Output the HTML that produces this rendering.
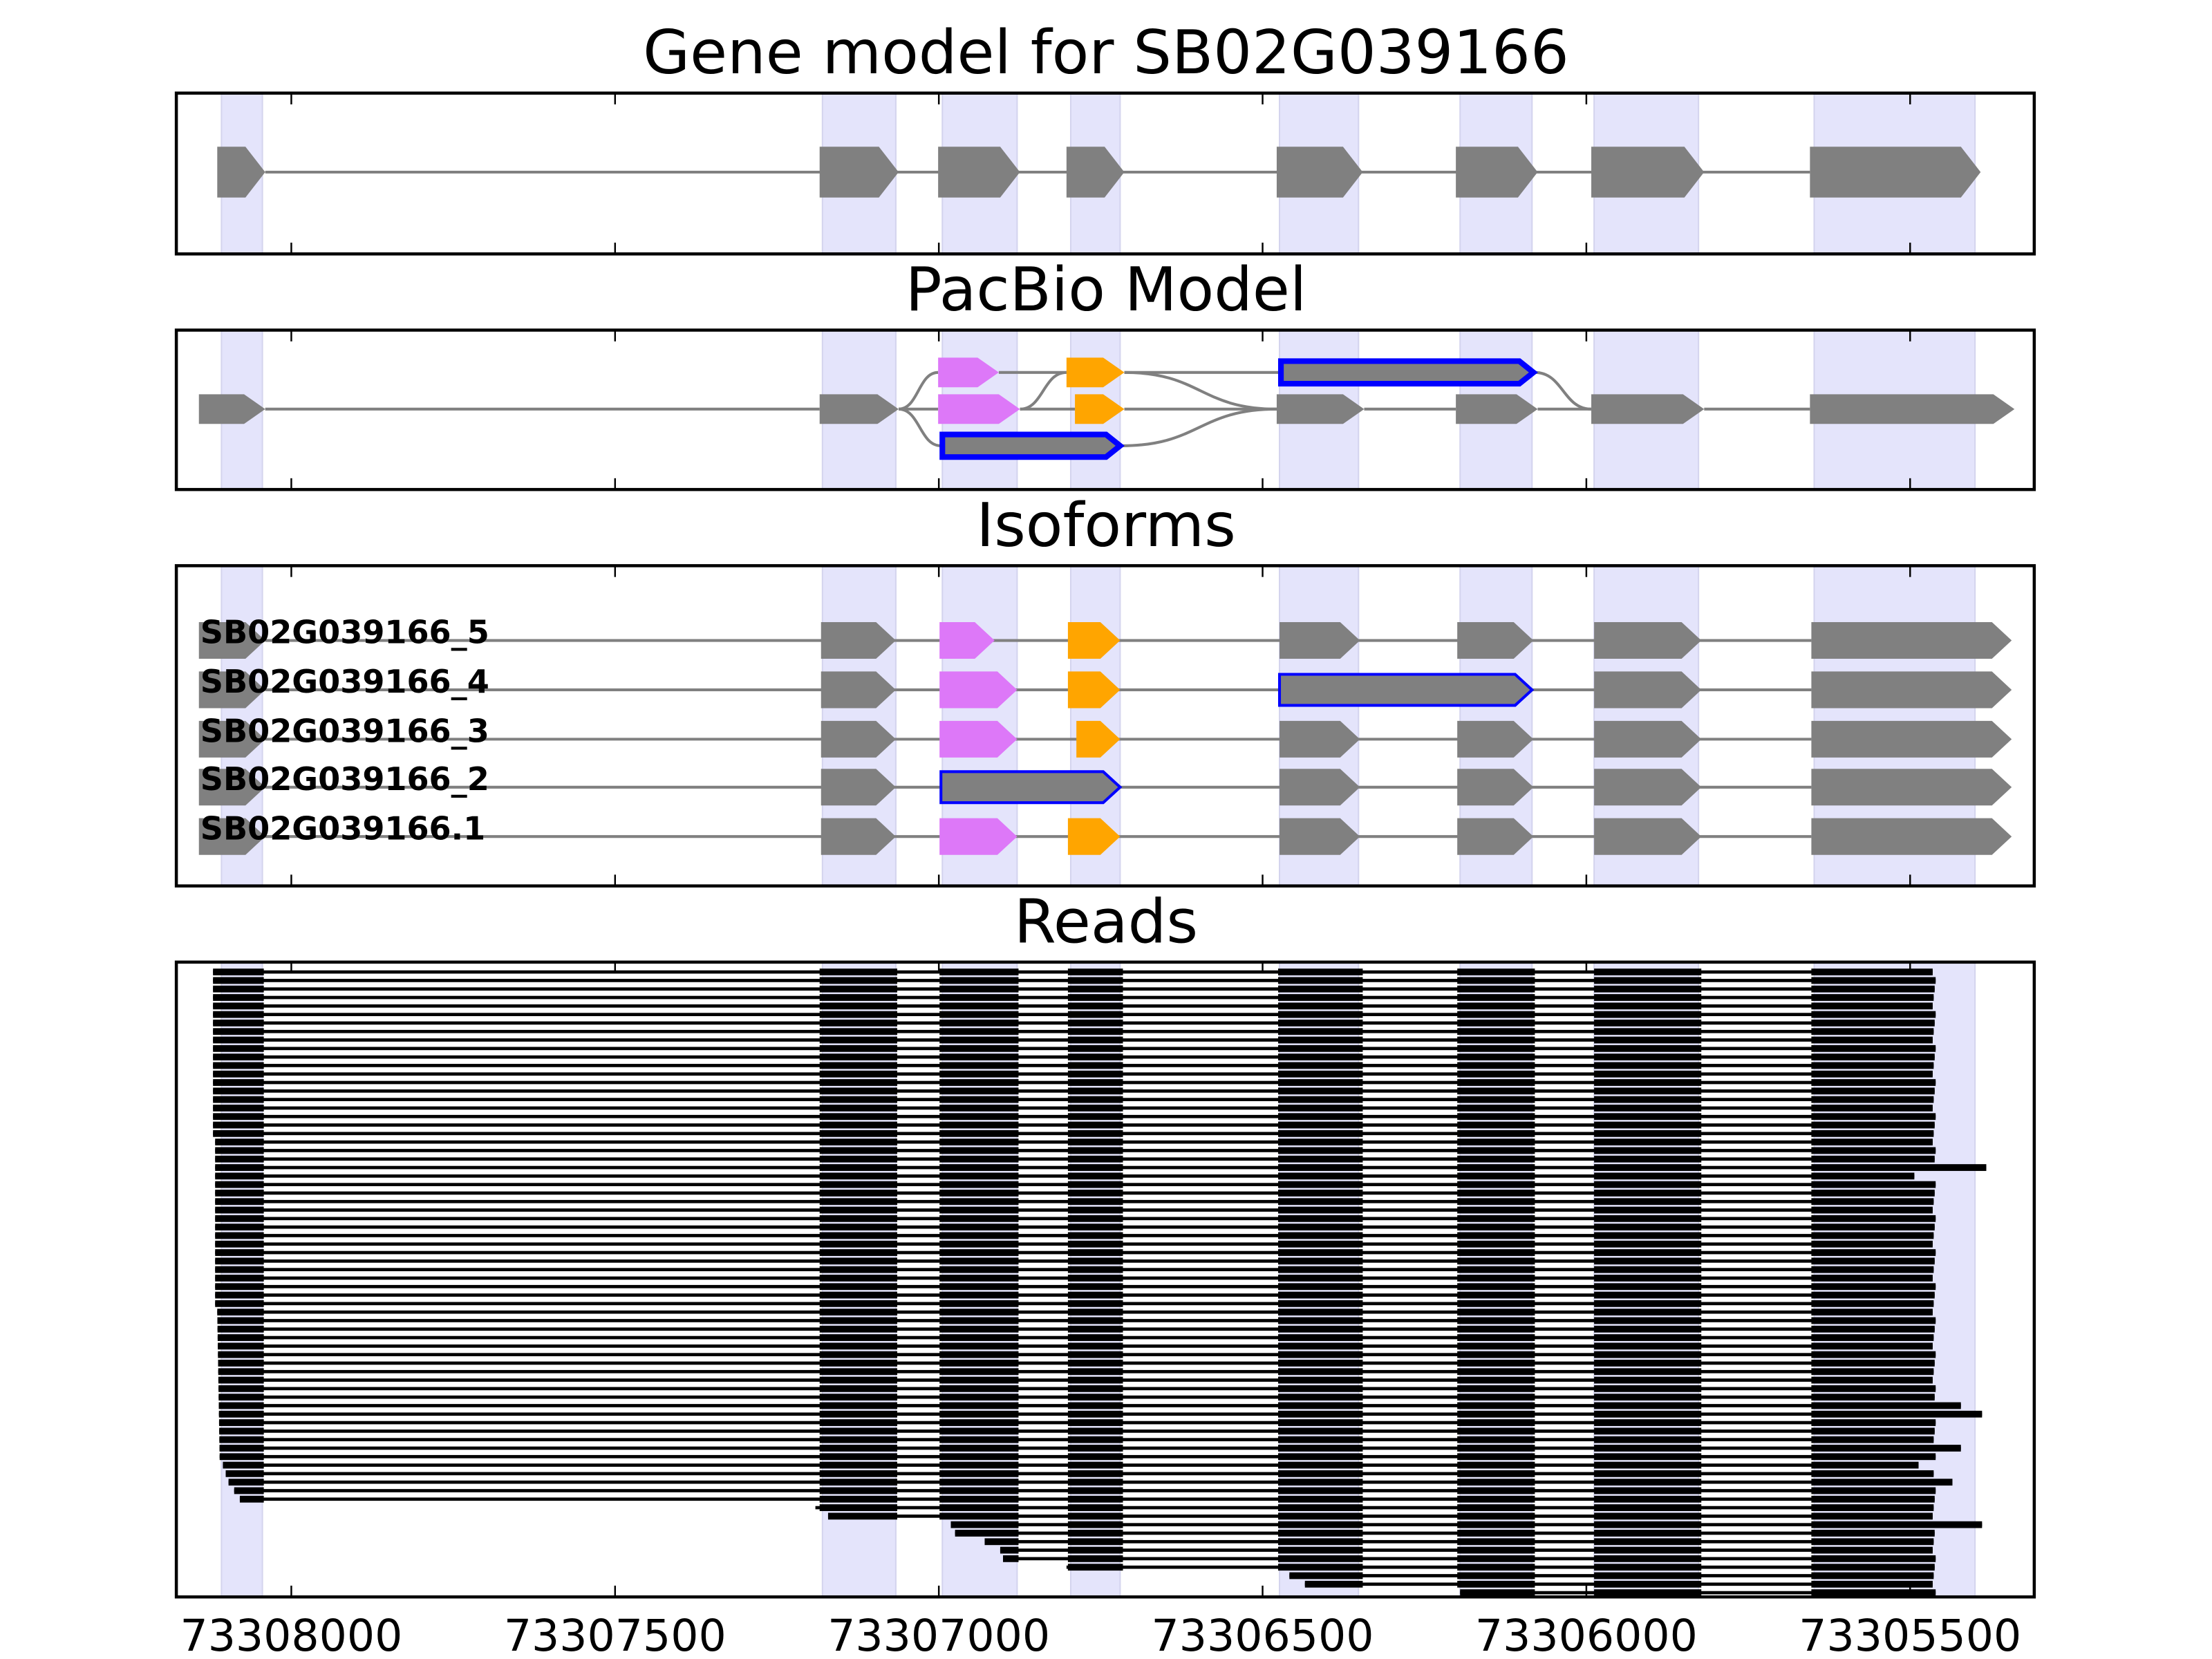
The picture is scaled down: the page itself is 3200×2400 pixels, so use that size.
<!DOCTYPE html>
<html><head><meta charset="utf-8"><style>html,body{margin:0;padding:0;background:#fff}svg{display:block}</style></head>
<body>
<svg id="s" xmlns="http://www.w3.org/2000/svg" width="3200" height="2400" viewBox="0 0 1568 1176">
<rect width="1568" height="1176" fill="#fff"/>
<g id="bands"></g>
<g id="content"></g>
<g font-family="DejaVu Sans, Liberation Sans, sans-serif" fill="#000" text-anchor="middle">
<text x="784" y="52" font-size="43">Gene model for SB02G039166</text>
<text x="784" y="220" font-size="43">PacBio Model</text>
<text x="784" y="387" font-size="43">Isoforms</text>
<text x="784" y="668" font-size="43">Reads</text>
<text x="206.5" y="1170" font-size="31">73308000</text>
<text x="436" y="1170" font-size="31">73307500</text>
<text x="665.5" y="1170" font-size="31">73307000</text>
<text x="895" y="1170" font-size="31">73306500</text>
<text x="1124.5" y="1170" font-size="31">73306000</text>
<text x="1354" y="1170" font-size="31">73305500</text>
</g>
<g id="labels" font-family="DejaVu Sans, Liberation Sans, sans-serif" font-weight="bold" font-size="22.6" fill="#000"></g>
<g id="frames"></g>
</svg>
<script>
const NS="http://www.w3.org/2000/svg";
function el(parent,tag,attrs){const e=document.createElementNS(NS,tag);for(const k in attrs)e.setAttribute(k,attrs[k]);document.getElementById(parent).appendChild(e);return e;}
const panels=[[66,180],[234,347],[401,628],[682,1132]];
const bands=[[157,186],[583,635],[668,721],[759,794],[907,963],[1035,1086],[1130,1204],[1286,1400]];
panels.forEach(([t,b])=>{
  bands.forEach(([a,c])=>el('bands','rect',{x:a,y:t,width:c-a,height:b-t,fill:'#e4e4fb',stroke:'#d4d4ee','stroke-width':1}));
  const ticks=[206.5,436,665.5,895,1124.5,1354];
  ticks.forEach(x=>{el('frames','line',{x1:x,x2:x,y1:t,y2:t+8,stroke:'#000','stroke-width':1.2});el('frames','line',{x1:x,x2:x,y1:b,y2:b-8,stroke:'#000','stroke-width':1.2});});
  el('frames','rect',{x:125,y:t,width:1317,height:b-t,fill:'none',stroke:'#000','stroke-width':2.2});
});
function arrow(x1,x2,y,h,tip,fill,stroke,sw){
  const t=Math.min(tip,x2-x1);
  const p=`${x1},${y-h/2} ${x2-t},${y-h/2} ${x2},${y} ${x2-t},${y+h/2} ${x1},${y+h/2}`;
  const a={points:p,fill:fill};
  if(stroke){a.stroke=stroke;a['stroke-width']=sw;a['stroke-linejoin']='miter';}
  el('content','polygon',a);
}
function line(x1,x2,y){el('content','line',{x1:x1,x2:x2,y1:y,y2:y,stroke:'#808080','stroke-width':2});}
function curve(x1,y1,x2,y2){const m=(x1+x2)/2;el('content','path',{d:`M${x1},${y1} C${m},${y1} ${m},${y2} ${x2},${y2}`,fill:'none',stroke:'#808080','stroke-width':2});}
const G='#808080',P='#dd78f8',O='#ffa500',B='#0000ff';
const gm=[[154,188],[581,637],[665,723],[756,797],[905,966],[1032,1090],[1128,1208],[1283,1404]];
line(188,1283,122);
gm.forEach(([a,b])=>arrow(a,b,122,36,14,G));
const yM=290,yT=264,yB=316;
line(188,581,yM);line(637,665,yM);line(723,762,yM);line(797,905,yM);line(967,1032,yM);line(1090,1128,yM);line(1208,1283,yM);
line(708,756,yT);line(797,907,yT);
curve(637,yM,665,yT);curve(637,yM,667,yB);curve(723,yM,756,yT);
curve(797,yT,905,yM);curve(795,yB,905,yM);curve(1088,yT,1128,yM);
arrow(141,188,yM,21,15,G);arrow(581,637,yM,21,15,G);arrow(665,723,yM,21,15,P);arrow(762,797,yM,21,15,O);
arrow(905,967,yM,21,15,G);arrow(1032,1090,yM,21,15,G);arrow(1128,1208,yM,21,15,G);arrow(1283,1428,yM,21,15,G);
arrow(665,708,yT,21,15,P);arrow(756,797,yT,21,15,O);
arrow(908,1087,yT,16,10,G,B,4);
arrow(668,794,yB,16,10,G,B,4);
const rows=[454,489,524,558,593];
const names=['SB02G039166_5','SB02G039166_4','SB02G039166_3','SB02G039166_2','SB02G039166.1'];
rows.forEach((y,i)=>{
  line(188,1284,y);
  arrow(141,188,y,26,14,G);arrow(582,635,y,26,14,G);
  if(i===3){arrow(667,794,y,22,12,G,B,2);}
  else{
    arrow(666,i===0?705:721,y,26,14,P);
    arrow(i===2?763:757,794,y,26,14,O);
  }
  if(i===1){arrow(907,1086,y,22,12,G,B,2);}
  else{arrow(907,964,y,26,14,G);arrow(1033,1087,y,26,14,G);}
  arrow(1130,1206,y,26,14,G);arrow(1284,1426,y,26,14,G);
  const t=el('labels','text',{x:142,y:y+2});t.textContent=names[i];
});
const ex=[[0,187],[581,636],[666,722],[757,796],[906,966],[1033,1088],[1130,1206],[1284,0]];
const N=74,y0=689,pitch=(1129-689)/73;
const partial={63:578,64:587,65:674,66:677,67:698,68:709,69:711,70:756,71:914,72:925,73:1035};
const ends={23:1408,24:1357,51:1390,52:1405,56:1390,58:1360,60:1384,65:1405};
for(let i=0;i<N;i++){
  const y=y0+i*pitch;
  let s;
  if(i<63){ s = i<20?151:(i<40?152.5:154+(i-40)*0.1);
    if(i>=58) s=[158,160,162,166,170][i-58]; }
  else s=partial[i];
  let e=ends[i]||(1370+((i*7)%4)*0.7);
  el('content','rect',{x:s,y:y-1.15,width:e-s,height:2.3,fill:'#000'});
  ex.forEach(([a,b],k)=>{
    let aa=(k===0)?s:a, bb=(k===7)?e:b;
    if(aa<s) aa=s;
    if(bb<=s) return;
    el('content','rect',{x:aa,y:y-2.4,width:bb-aa,height:4.8,fill:'#000'});
  });
}
</script>
</body></html>
